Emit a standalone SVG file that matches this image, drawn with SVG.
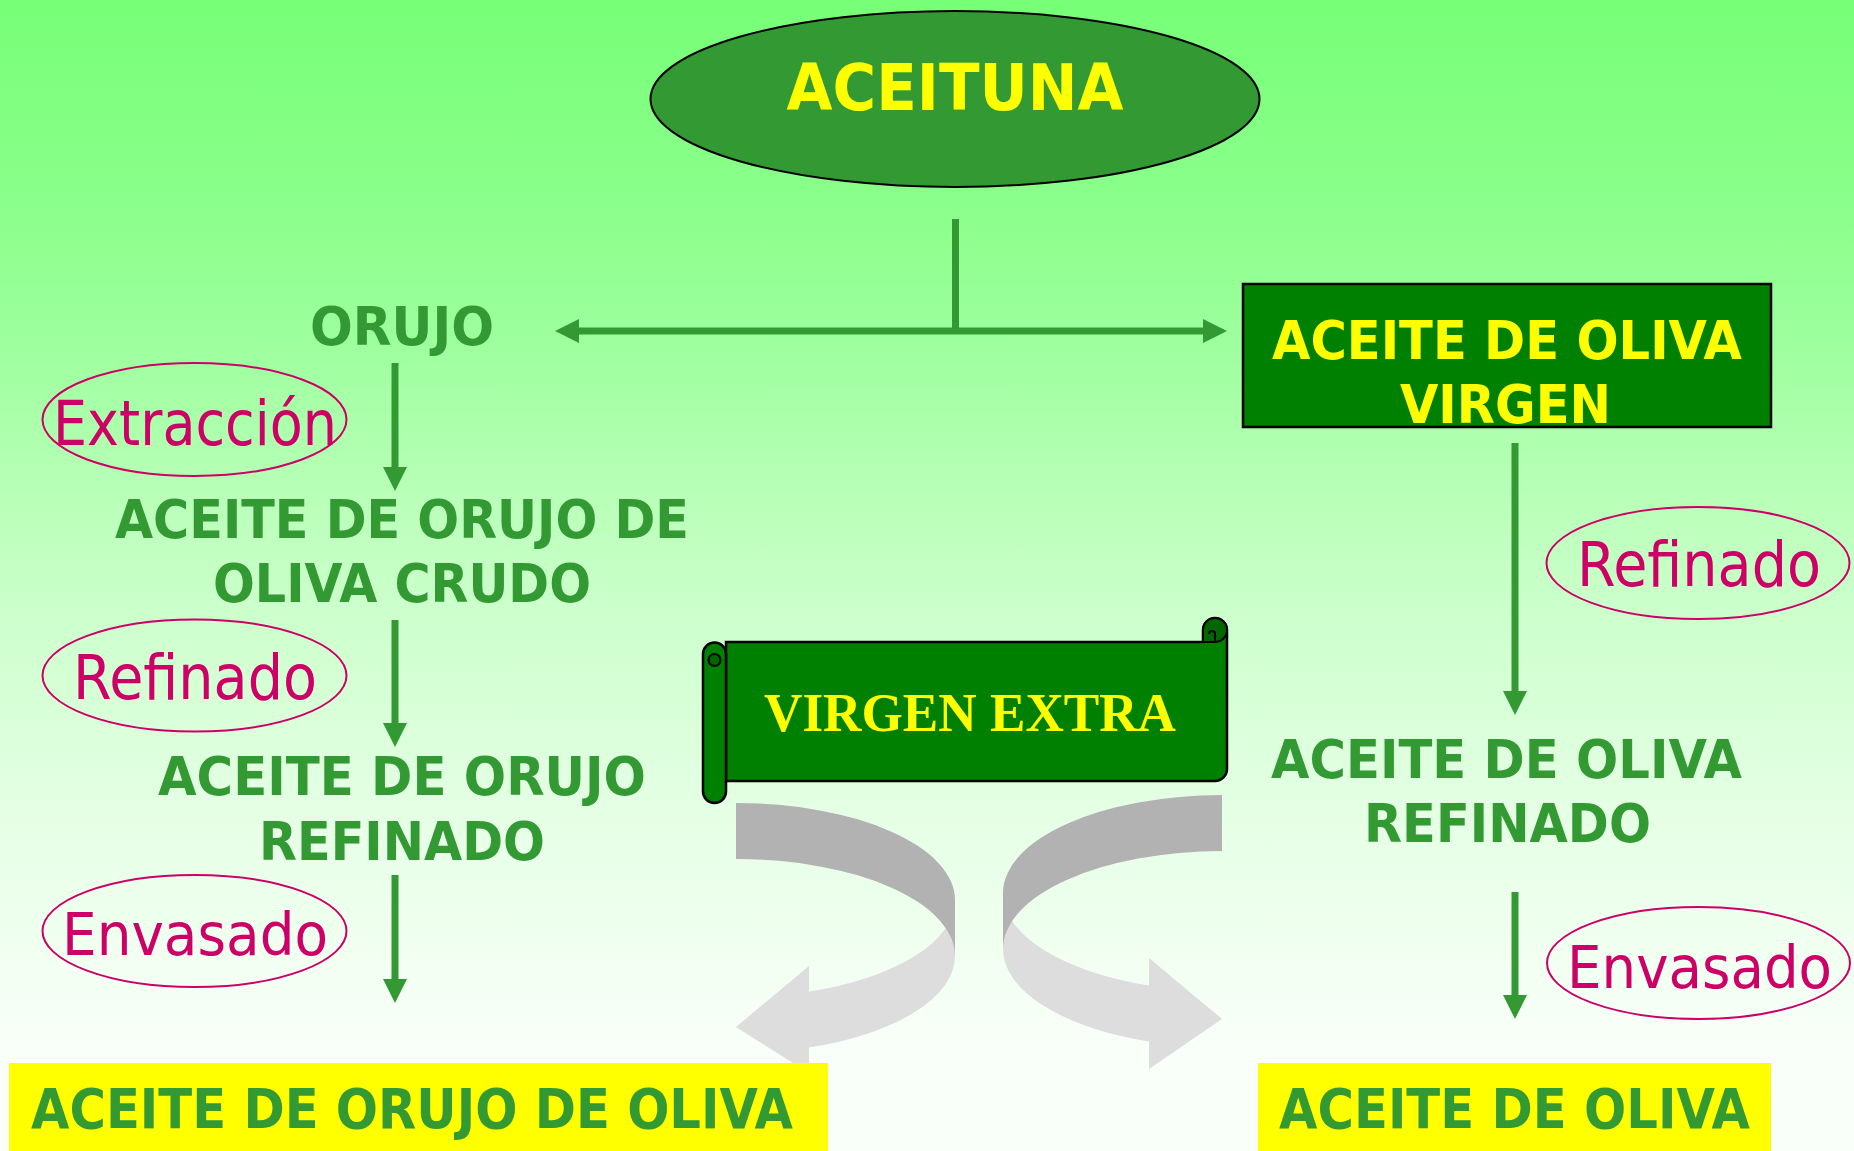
<svg xmlns="http://www.w3.org/2000/svg" width="1854" height="1151" viewBox="0 0 1854 1151">
<defs>
<linearGradient id="bg" x1="0" y1="0" x2="0" y2="1">
<stop offset="0" stop-color="#77FF77"/>
<stop offset="0.17" stop-color="#8AFF8A"/>
<stop offset="0.29" stop-color="#9CFF9C"/>
<stop offset="0.53" stop-color="#CCFFCC"/>
<stop offset="0.70" stop-color="#E4FFE4"/>
<stop offset="0.90" stop-color="#F8FFF8"/>
<stop offset="1" stop-color="#FAFFFA"/>
</linearGradient>
<marker id="ah" markerUnits="userSpaceOnUse" markerWidth="24" markerHeight="24" refX="0" refY="12" orient="auto-start-reverse" overflow="visible">
<path d="M0,0 L24,12 L0,24 Z" fill="#339933"/>
</marker>
</defs>
<style>
.b{font-family:"DejaVu Sans","Liberation Sans",sans-serif;font-weight:bold;text-anchor:middle}
.g{fill:#339933}
.y{fill:#FFFF00}
.m{font-family:"DejaVu Sans","Liberation Sans",sans-serif;fill:#CC0066;text-anchor:middle;font-size:62px}
.e{font-size:59px}
.oval{fill:none;stroke:#CC0066;stroke-width:2}
.conn{stroke:#339933;stroke-width:7;fill:none}
</style>
<rect x="0" y="0" width="1854" height="1151" fill="url(#bg)"/>

<g id="curved-arrows">
<path d="M 955 900 A 219 97 0 0 1 809 991.5 L 809 966 L 736 1027 L 809 1073 L 809 1047.5 A 219 97 0 0 0 955 956 Z" fill="#DDDDDD"/>
<path d="M 736 803 A 219 97 0 0 1 955 900 L 955 956 A 219 97 0 0 0 736 859 Z" fill="#B2B2B2"/>
<path d="M 1003 893 A 219 98 0 0 0 1149 985.4 L 1149 958 L 1222 1019 L 1149 1069 L 1149 1041.4 A 219 98 0 0 1 1003 949 Z" fill="#DDDDDD"/>
<path d="M 1222 795 A 219 98 0 0 0 1003 893 L 1003 949 A 219 98 0 0 1 1222 851 Z" fill="#B2B2B2"/>
</g>

<g id="connectors">
<line class="conn" x1="955.5" y1="219" x2="955.5" y2="331"/>
<line class="conn" x1="579" y1="331" x2="1203" y2="331" marker-start="url(#ah)" marker-end="url(#ah)"/>
<line class="conn" x1="395" y1="363" x2="395" y2="467" marker-end="url(#ah)"/>
<line class="conn" x1="395" y1="620" x2="395" y2="723" marker-end="url(#ah)"/>
<line class="conn" x1="395" y1="875" x2="395" y2="979" marker-end="url(#ah)"/>
<line class="conn" x1="1515" y1="443" x2="1515" y2="691" marker-end="url(#ah)"/>
<line class="conn" x1="1515" y1="892" x2="1515" y2="995" marker-end="url(#ah)"/>
</g>

<g id="aceituna">
<ellipse cx="955" cy="99" rx="304.5" ry="88" fill="#339933" stroke="#000" stroke-width="2"/>
<text class="b y" x="955" y="110" font-size="64" textLength="337" lengthAdjust="spacingAndGlyphs">ACEITUNA</text>
</g>

<g id="orujo">
<text class="b g" x="402" y="345" font-size="53" textLength="184" lengthAdjust="spacingAndGlyphs">ORUJO</text>
</g>

<g id="aceite-oliva-virgen">
<rect x="1243" y="284" width="528" height="143" fill="#008000" stroke="#000" stroke-width="2.5"/>
<text class="b y" x="1507" y="359" font-size="54" textLength="470" lengthAdjust="spacingAndGlyphs">ACEITE DE OLIVA</text>
<text class="b y" x="1505.5" y="423" font-size="54" textLength="211" lengthAdjust="spacingAndGlyphs">VIRGEN</text>
</g>

<g id="extraccion">
<ellipse class="oval" cx="194.5" cy="419.5" rx="152" ry="56.5"/>
<text class="m" x="195" y="445" textLength="284" lengthAdjust="spacingAndGlyphs">Extracción</text>
</g>

<g id="aceite-orujo-crudo">
<text class="b g" x="402" y="538" font-size="54" textLength="574" lengthAdjust="spacingAndGlyphs">ACEITE DE ORUJO DE</text>
<text class="b g" x="402" y="602" font-size="54" textLength="378" lengthAdjust="spacingAndGlyphs">OLIVA CRUDO</text>
</g>

<g id="refinado-left">
<ellipse class="oval" cx="194.5" cy="675.5" rx="152" ry="56"/>
<text class="m" x="195" y="699" textLength="244" lengthAdjust="spacingAndGlyphs">Refinado</text>
</g>

<g id="aceite-orujo-refinado">
<text class="b g" x="402" y="795" font-size="54" textLength="488" lengthAdjust="spacingAndGlyphs">ACEITE DE ORUJO</text>
<text class="b g" x="402" y="860" font-size="54" textLength="286" lengthAdjust="spacingAndGlyphs">REFINADO</text>
</g>

<g id="envasado-left">
<ellipse class="oval" cx="194.5" cy="931" rx="152" ry="56"/>
<text class="m e" x="195" y="955" textLength="266" lengthAdjust="spacingAndGlyphs">Envasado</text>
</g>

<g id="refinado-right">
<ellipse class="oval" cx="1698" cy="563" rx="151.5" ry="56"/>
<text class="m" x="1699" y="586" textLength="244" lengthAdjust="spacingAndGlyphs">Refinado</text>
</g>

<g id="aceite-oliva-refinado">
<text class="b g" x="1506.5" y="778" font-size="54" textLength="471" lengthAdjust="spacingAndGlyphs">ACEITE DE OLIVA</text>
<text class="b g" x="1507.5" y="842" font-size="54" textLength="287" lengthAdjust="spacingAndGlyphs">REFINADO</text>
</g>

<g id="envasado-right">
<ellipse class="oval" cx="1698.5" cy="963" rx="151.5" ry="56"/>
<text class="m e" x="1699.5" y="988" textLength="265" lengthAdjust="spacingAndGlyphs">Envasado</text>
</g>

<g id="virgen-extra">
<path d="M 726 642 H 1203 V 630 A 12 12 0 0 1 1227 630 V 769 A 12 12 0 0 1 1215 781 H 726 Z" fill="#008000" stroke="#000" stroke-width="2.5"/>
<path d="M 1203 642 V 630 A 12 12 0 0 1 1227 630 A 12 12 0 0 1 1215 642 Z" fill="#006600" stroke="#000" stroke-width="2"/>
<path d="M 1215 642 V 634 A 3 3 0 0 0 1209 634" fill="none" stroke="#000" stroke-width="2"/>
<path d="M 703 654 A 11.5 11.5 0 0 1 726 654 V 791.5 A 11.5 11.5 0 0 1 703 791.5 Z" fill="#008000" stroke="#000" stroke-width="2.5"/>
<path d="M 714.5 666 A 6 6 0 1 1 720.5 660 A 6 6 0 0 1 714.5 666" fill="#006600" stroke="#000" stroke-width="2"/>
<text x="970" y="731" font-family="'Liberation Serif','Times New Roman',serif" font-weight="bold" font-size="54" fill="#FFFF00" text-anchor="middle" textLength="412" lengthAdjust="spacingAndGlyphs">VIRGEN EXTRA</text>
</g>

<g id="aceite-orujo-oliva">
<rect x="9" y="1063" width="819" height="88" fill="#FFFF00"/>
<text class="b g" x="412" y="1128" font-size="55" textLength="762" lengthAdjust="spacingAndGlyphs">ACEITE DE ORUJO DE OLIVA</text>
</g>

<g id="aceite-oliva">
<rect x="1258" y="1063" width="513" height="88" fill="#FFFF00"/>
<text class="b g" x="1514.5" y="1128" font-size="55" textLength="471" lengthAdjust="spacingAndGlyphs">ACEITE DE OLIVA</text>
</g>
</svg>
